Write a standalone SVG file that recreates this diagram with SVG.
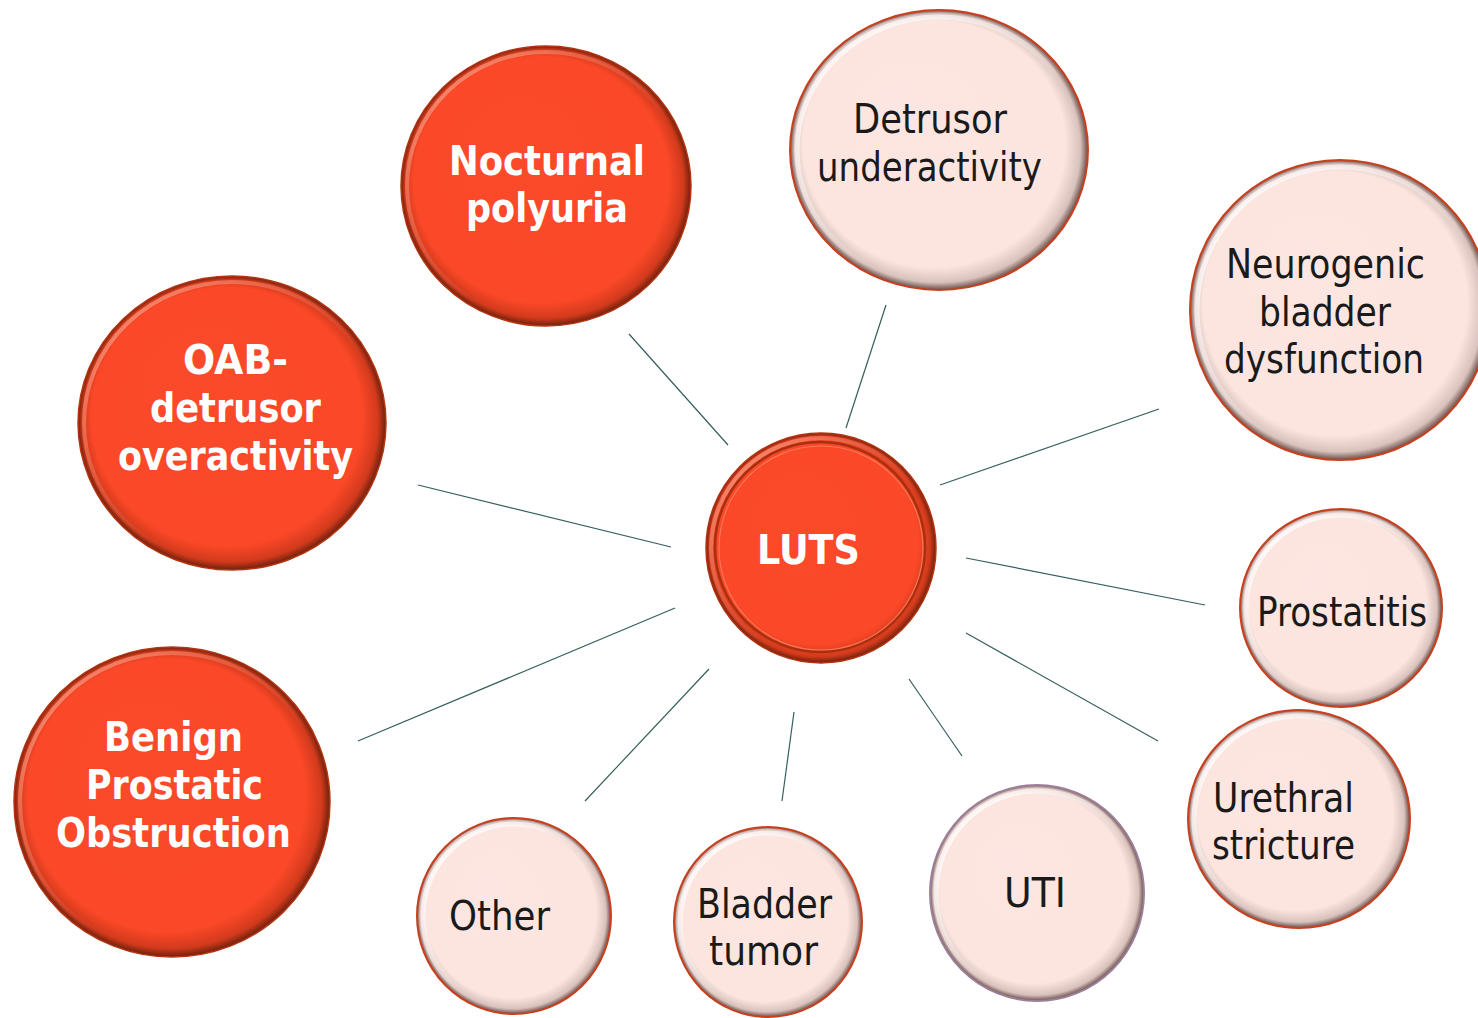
<svg xmlns="http://www.w3.org/2000/svg" width="1478" height="1018" viewBox="0 0 1478 1018">
<defs>
<radialGradient id="gRed" cx="50%" cy="50%" r="50%" fx="36%" fy="32%">
<stop offset="0" stop-color="#FB4A29"/>
<stop offset="0.88" stop-color="#FA4828"/>
<stop offset="0.96" stop-color="#d23a1c"/>
<stop offset="1" stop-color="#6e200c"/>
</radialGradient>
<radialGradient id="gPink" cx="50%" cy="50%" r="50%" fx="36%" fy="32%">
<stop offset="0" stop-color="#FDE6E1"/>
<stop offset="0.88" stop-color="#FCE4DF"/>
<stop offset="0.96" stop-color="#d9c2bd"/>
<stop offset="1" stop-color="#6a4d48"/>
</radialGradient>
<linearGradient id="gHi" x1="0" y1="0" x2="1" y2="1">
<stop offset="0" stop-color="#fff" stop-opacity="0.95"/>
<stop offset="0.45" stop-color="#fff" stop-opacity="0.3"/>
<stop offset="0.6" stop-color="#fff" stop-opacity="0"/>
</linearGradient>
<linearGradient id="gHiRed" x1="0" y1="0" x2="1" y2="1">
<stop offset="0" stop-color="#ffb09a" stop-opacity="0.8"/>
<stop offset="0.45" stop-color="#ff9a80" stop-opacity="0.2"/>
<stop offset="0.6" stop-color="#ff9a80" stop-opacity="0"/>
</linearGradient>
</defs>
<style>
.red{fill:url(#gRed);stroke:#b33512;stroke-width:1.5}
.pink{fill:url(#gPink);stroke:#c9401e;stroke-width:2}
.hi{fill:none;stroke:url(#gHi);stroke-width:5}
.hiR{fill:none;stroke:url(#gHiRed);stroke-width:4}
.tw{font-family:"DejaVu Sans Condensed","DejaVu Sans",sans-serif;font-weight:bold;font-size:40px;fill:#ffffff;text-anchor:middle}
.tb{font-family:"DejaVu Sans Condensed","DejaVu Sans",sans-serif;font-size:40px;fill:#1a1a1a;text-anchor:middle}
.con line{stroke:#355f5c;stroke-width:1.2}
</style>
<rect width="1478" height="1018" fill="#ffffff"/>
<g id="connectors" class="con">
<line x1="629" y1="334" x2="728" y2="445"/>
<line x1="886" y1="305" x2="846" y2="428"/>
<line x1="940" y1="485" x2="1159" y2="409"/>
<line x1="418" y1="485" x2="671" y2="547"/>
<line x1="966" y1="558" x2="1205" y2="605"/>
<line x1="675" y1="608" x2="358" y2="741"/>
<line x1="966" y1="633" x2="1158" y2="741"/>
<line x1="709" y1="669" x2="585" y2="801"/>
<line x1="794" y1="712" x2="782" y2="801"/>
<line x1="909" y1="679" x2="962" y2="756"/>
</g>
<g id="nocturnal">
<ellipse class="red" cx="546" cy="186" rx="145" ry="140"/>
<ellipse class="hiR" cx="546" cy="186" rx="139" ry="134"/>
<text class="tw" x="547" y="175" textLength="196" lengthAdjust="spacingAndGlyphs">Nocturnal</text>
<text class="tw" x="547" y="222" textLength="162" lengthAdjust="spacingAndGlyphs">polyuria</text>
</g>
<g id="detrusor-under">
<ellipse class="pink" cx="939" cy="150" rx="149" ry="140"/>
<ellipse class="hi" cx="939" cy="150" rx="142" ry="133"/>
<text class="tb" x="930" y="133" textLength="154" lengthAdjust="spacingAndGlyphs">Detrusor</text>
<text class="tb" x="929.5" y="181" textLength="225" lengthAdjust="spacingAndGlyphs">underactivity</text>
</g>
<g id="neurogenic">
<ellipse class="pink" cx="1340" cy="310" rx="150" ry="150"/>
<ellipse class="hi" cx="1340" cy="310" rx="143" ry="143"/>
<text class="tb" x="1325.5" y="278" textLength="199" lengthAdjust="spacingAndGlyphs">Neurogenic</text>
<text class="tb" x="1325" y="326" textLength="132" lengthAdjust="spacingAndGlyphs">bladder</text>
<text class="tb" x="1324" y="373" textLength="200" lengthAdjust="spacingAndGlyphs">dysfunction</text>
</g>
<g id="oab">
<ellipse class="red" cx="232" cy="423" rx="154" ry="147"/>
<ellipse class="hiR" cx="232" cy="423" rx="148" ry="141"/>
<text class="tw" x="235.5" y="374" textLength="105" lengthAdjust="spacingAndGlyphs">OAB-</text>
<text class="tw" x="235.5" y="422" textLength="171" lengthAdjust="spacingAndGlyphs">detrusor</text>
<text class="tw" x="235.5" y="470" textLength="235" lengthAdjust="spacingAndGlyphs">overactivity</text>
</g>
<g id="luts">
<ellipse class="red" cx="821" cy="548" rx="115" ry="115"/>
<ellipse cx="820" cy="547" rx="105" ry="105" fill="none" stroke="#a8300f" stroke-width="2.5"/>
<ellipse cx="821" cy="548" rx="102" ry="102" fill="none" stroke="#ff8a6a" stroke-width="1.2" stroke-opacity="0.7"/>
<ellipse class="hiR" cx="821" cy="548" rx="110" ry="110"/>
<text class="tw" x="808.5" y="564" textLength="103" lengthAdjust="spacingAndGlyphs">LUTS</text>
</g>
<g id="prostatitis">
<ellipse class="pink" cx="1341" cy="608" rx="101" ry="99"/>
<ellipse class="hi" cx="1341" cy="608" rx="95" ry="93"/>
<text class="tb" x="1342" y="626" textLength="170" lengthAdjust="spacingAndGlyphs">Prostatitis</text>
</g>
<g id="bpo">
<ellipse class="red" cx="172" cy="802" rx="158" ry="155"/>
<ellipse class="hiR" cx="172" cy="802" rx="152" ry="149"/>
<text class="tw" x="173.5" y="751" textLength="139" lengthAdjust="spacingAndGlyphs">Benign</text>
<text class="tw" x="174.5" y="799" textLength="177" lengthAdjust="spacingAndGlyphs">Prostatic</text>
<text class="tw" x="173.5" y="847" textLength="235" lengthAdjust="spacingAndGlyphs">Obstruction</text>
</g>
<g id="other">
<ellipse class="pink" cx="514" cy="916" rx="97" ry="98"/>
<ellipse class="hi" cx="514" cy="916" rx="91" ry="92"/>
<text class="tb" x="499.5" y="930" textLength="101" lengthAdjust="spacingAndGlyphs">Other</text>
</g>
<g id="bladder-tumor">
<ellipse class="pink" cx="768" cy="922" rx="94" ry="95"/>
<ellipse class="hi" cx="768" cy="922" rx="88" ry="89"/>
<text class="tb" x="764.5" y="918" textLength="135" lengthAdjust="spacingAndGlyphs">Bladder</text>
<text class="tb" x="763.5" y="965" textLength="109" lengthAdjust="spacingAndGlyphs">tumor</text>
</g>
<g id="uti">
<ellipse class="pink" cx="1037" cy="893" rx="107" ry="108" style="stroke:#9c7f9c"/>
<ellipse class="hi" cx="1037" cy="893" rx="101" ry="102"/>
<text class="tb" x="1035" y="907" textLength="62" lengthAdjust="spacingAndGlyphs">UTI</text>
</g>
<g id="urethral">
<ellipse class="pink" cx="1299" cy="819" rx="111" ry="109"/>
<ellipse class="hi" cx="1299" cy="819" rx="105" ry="103"/>
<text class="tb" x="1283.5" y="812" textLength="141" lengthAdjust="spacingAndGlyphs">Urethral</text>
<text class="tb" x="1283.5" y="859" textLength="143" lengthAdjust="spacingAndGlyphs">stricture</text>
</g>
</svg>
